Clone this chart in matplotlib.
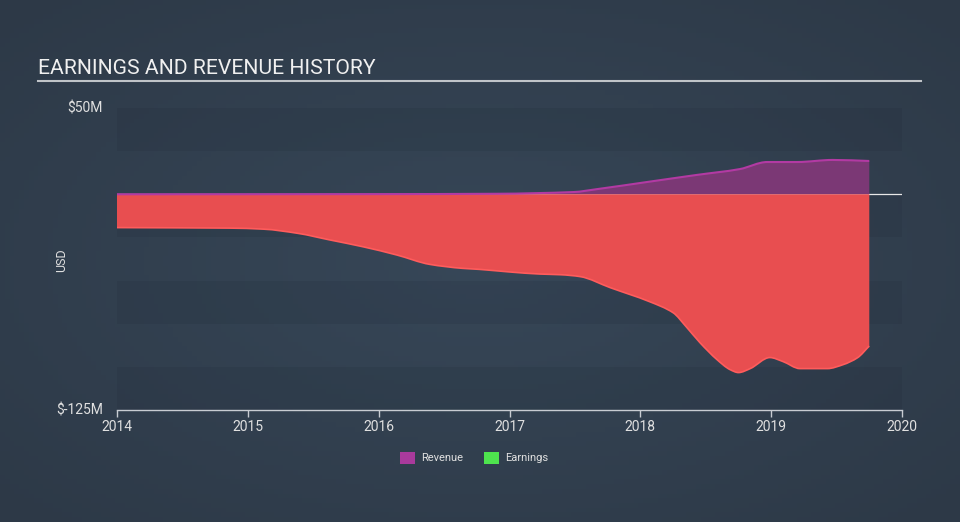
import numpy as np
import matplotlib
matplotlib.use("Agg")
import matplotlib.pyplot as plt
from matplotlib.path import Path
from matplotlib.patches import PathPatch

# values (years, $M)
earn_x = [2014.0, 2014.86, 2015.12, 2015.38, 2015.63, 2015.88, 2016.14, 2016.39, 2016.64,
          2016.77, 2017.0, 2017.23, 2017.39, 2017.54, 2017.77, 2018.07, 2018.25, 2018.35,
          2018.456, 2018.586, 2018.686, 2018.75, 2018.84, 2018.99, 2019.09, 2019.22,
          2019.43, 2019.55, 2019.66, 2019.75]
earn_y = [-19.3, -19.6, -20.2, -22.6, -26.5, -30.4, -35.2, -40.6, -42.9,
          -43.5, -45.0, -46.2, -46.6, -47.7, -54.1, -62.2, -68.6, -76.7,
          -86.0, -95.8, -101.6, -103.3, -101.0, -94.6, -96.9, -101.0,
          -101.0, -98.7, -94.7, -87.9]

rev_x = [2014.0, 2016.0, 2016.9, 2017.49, 2017.67, 2018.05, 2018.43, 2018.76, 2018.97,
         2019.2, 2019.47, 2019.75]
rev_y = [0.0, 0.1, 0.3, 1.3, 3.0, 7.1, 11.2, 14.6, 18.7, 18.7, 19.9, 19.3]

year_ticks = [2014, 2015, 2016, 2017, 2018, 2019, 2020]
y_min, y_max = -125, 50


def smooth_path(xs, ys):
    # monotone cubic bezier through the points (like d3 curveMonotoneX)
    x = np.asarray(xs, float)
    y = np.asarray(ys, float)
    h = np.diff(x)
    d = np.diff(y) / h
    m = np.zeros_like(y)
    m[0], m[-1] = d[0], d[-1]
    for i in range(1, len(y) - 1):
        if d[i - 1] * d[i] > 0:
            m[i] = 2 * d[i - 1] * d[i] / (d[i - 1] + d[i])
    verts = [(x[0], y[0])]
    codes = [Path.MOVETO]
    for i in range(len(x) - 1):
        verts += [(x[i] + h[i] / 3, y[i] + m[i] * h[i] / 3),
                  (x[i + 1] - h[i] / 3, y[i + 1] - m[i + 1] * h[i] / 3),
                  (x[i + 1], y[i + 1])]
        codes += [Path.CURVE4] * 3
    return verts, codes


def area(ax, xs, ys, fill, edge, lw):
    verts, codes = smooth_path(xs, ys)
    fv = [(xs[0], 0)] + verts + [(xs[-1], 0), (xs[0], 0)]
    fc = [Path.MOVETO, Path.LINETO] + codes[1:] + [Path.LINETO, Path.CLOSEPOLY]
    ax.add_patch(PathPatch(Path(fv, fc), facecolor=fill, lw=0, zorder=2))
    ax.add_patch(PathPatch(Path(verts, codes), facecolor="none", edgecolor=edge, lw=lw, zorder=3))


fig = plt.figure(figsize=(9.6, 5.22), dpi=100)
fig.patch.set_facecolor("#323f4f")

# radial background glow
bg = fig.add_axes([0, 0, 1, 1], zorder=-10)
gx, gy = np.meshgrid(np.linspace(-1, 1, 200), np.linspace(-1, 1, 110))
r = np.clip(np.sqrt(gx ** 2 + gy ** 2) / 1.4, 0, 1)
c0 = np.array([0x37, 0x47, 0x58]) / 255
c1 = np.array([0x2d, 0x39, 0x47]) / 255
img = c0[None, None, :] * (1 - r[..., None]) + c1[None, None, :] * r[..., None]
bg.imshow(img, aspect="auto", extent=[0, 1, 0, 1])
bg.axis("off")

ax = fig.add_axes([117 / 960, 1 - 410 / 522, 785 / 960, 302 / 522])
ax.patch.set_alpha(0)
ax.set_xlim(2014, 2020)
ax.set_ylim(y_min, y_max)

for top in [50, 0, -50, -100]:
    ax.axhspan(top - 25, top, color="#1c2633", alpha=0.14, lw=0, zorder=0)

ax.axhline(0, color="#e8e8e8", lw=0.9, zorder=1)

area(ax, rev_x, rev_y, "#7b3875", "#b23aa3", 1.5)
area(ax, earn_x, earn_y, "#e84e50", "#ff5c5c", 1.2)

for s in ["top", "right", "left"]:
    ax.spines[s].set_visible(False)
ax.spines["bottom"].set_color("#c8ccd2")
ax.spines["bottom"].set_linewidth(1)

ax.set_xticks(year_ticks)
ax.set_xticklabels([str(y) for y in year_ticks], color="#e0e0e0", fontsize=10, fontfamily="Roboto")
ax.tick_params(axis="x", colors="#c8ccd2", length=5, width=1, labelcolor="#e0e0e0", pad=2)
ax.set_yticks([])

fig.text(103 / 960, 1 - 108 / 522, "$50M", ha="right", va="center", color="#e0e0e0",
         fontsize=10, fontfamily="Roboto")
fig.text(103 / 960, 1 - 410 / 522, "$-125M", ha="right", va="center", color="#e0e0e0",
         fontsize=10, fontfamily="Roboto")
fig.text(62 / 960, 1 - 260 / 522, "USD", ha="center", va="center", rotation=90,
         color="#e0e0e0", fontsize=9, fontfamily="Roboto")

fig.text(38 / 960, 1 - 69 / 522, "EARNINGS AND REVENUE HISTORY", ha="left", va="center",
         color="#f0f0f0", fontsize=15.2, fontfamily="Roboto")
fig.add_artist(plt.Line2D([38 / 960, 921 / 960], [1 - 81 / 522, 1 - 81 / 522],
                          color="#c0c4c8", lw=1.5))

# legend
for x0, col, lab in [(400, "#a93a9c", "Revenue"), (484, "#4ee44e", "Earnings")]:
    fig.add_artist(plt.Rectangle((x0 / 960, 1 - 464 / 522), 15 / 960, 12 / 522,
                                 color=col, lw=0))
    fig.text((x0 + 21) / 960, 1 - 458 / 522, lab, ha="left", va="center",
             color="#e0e0e0", fontsize=8, fontfamily="Roboto")

fig.savefig("out.png", dpi=100, facecolor=fig.get_facecolor())
